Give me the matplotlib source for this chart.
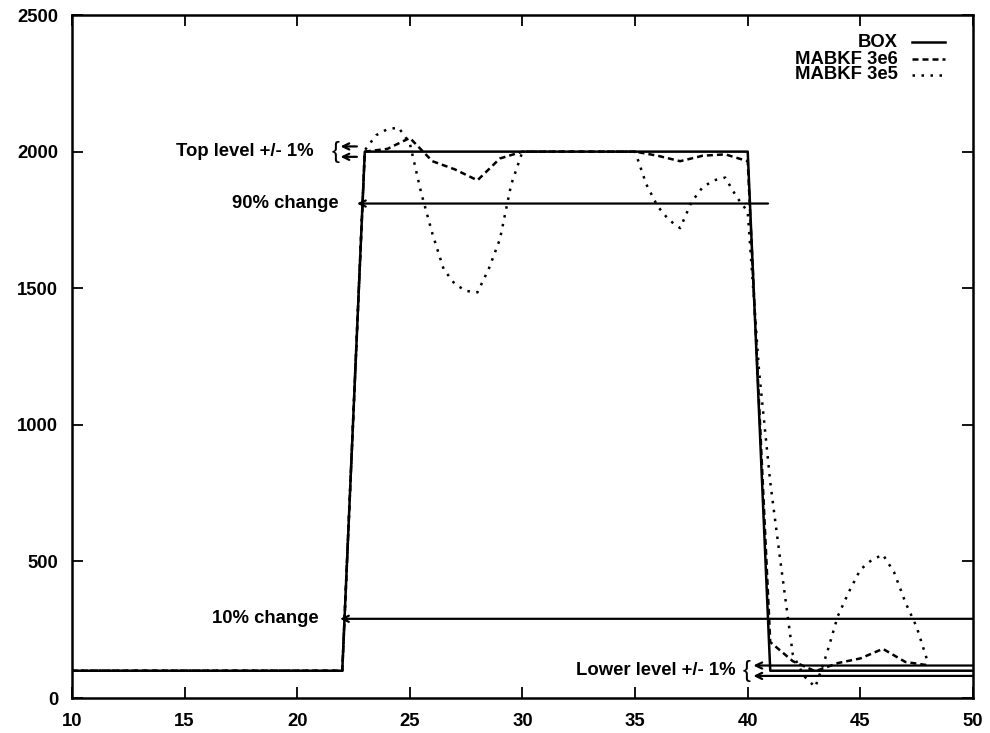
import matplotlib
matplotlib.use("Agg")
import matplotlib.pyplot as plt
from matplotlib.lines import Line2D

plt.rcParams['font.family'] = ['Liberation Sans', 'DejaVu Sans']
plt.rcParams['font.weight'] = 'bold'

# ---- data ----
box_x = [10, 22, 23, 40, 41, 50]
box_y = [100, 100, 2000, 2000, 100, 100]

m6_x = [10, 22, 23, 24, 25, 26, 27, 28, 29, 30, 35, 36, 37, 38, 39, 40,
        41, 42, 43, 44, 45, 46, 47, 48]
m6_y = [100, 100, 2000, 2010, 2050, 1965, 1935, 1895, 1975, 2000, 2000, 1985,
        1965, 1985, 1990, 1965, 205, 135, 98, 128, 145, 180, 132, 120]

m5_x = [10, 22, 23, 23.5, 24, 24.5, 25, 25.5, 26, 26.5, 27, 27.5, 28, 28.5,
        29, 29.5, 30, 35, 35.5, 36, 36.5, 37, 37.5, 38, 38.5, 39, 39.5, 40,
        40.5, 41, 41.5, 42, 42.5, 43, 43.5, 44, 44.5, 45, 45.5, 46, 46.5, 47,
        47.5, 48]
m5_y = [100, 100, 2005, 2060, 2082, 2088, 2030, 1850, 1700, 1570, 1515, 1490,
        1485, 1570, 1680, 1880, 2000, 2000, 1880, 1800, 1750, 1720, 1815,
        1870, 1895, 1905, 1835, 1780, 1200, 790, 470, 160, 80, 40, 160, 300,
        390, 470, 505, 525, 460, 350, 260, 130]

series_labels = ['BOX', 'MABKF 3e6', 'MABKF 3e5']

x_ticks = [10, 15, 20, 25, 30, 35, 40, 45, 50]
y_ticks = [0, 500, 1000, 1500, 2000, 2500]

top_level = 2000
low_level = 100
span = top_level - low_level
pct90 = low_level + 0.9 * span
pct10 = low_level + 0.1 * span
top_hi, top_lo = top_level + 0.01 * span, top_level - 0.01 * span
low_hi, low_lo = low_level + 0.01 * span, low_level - 0.01 * span

# ---- figure ----
fig = plt.figure(figsize=(9.9, 7.33), dpi=100)
ax = fig.add_axes([0.0727, 0.0477, 0.9101, 0.9318])

styles = ['-', (0, (2.4, 1.6)), (0, (1, 2.6))]
lw = 1.8
ax.plot(box_x, box_y, color='black', lw=lw, linestyle=styles[0])
ax.plot(m6_x, m6_y, color='black', lw=lw, linestyle=styles[1])
ax.plot(m5_x, m5_y, color='black', lw=lw, linestyle=styles[2])

arrow_kw = dict(arrowstyle='->, head_length=0.45, head_width=0.22',
                color='black', lw=1.6, shrinkA=0, shrinkB=0)

def hline_arrow(x0, x1, y):
    ax.annotate('', xy=(x0, y), xytext=(x1, y), arrowprops=arrow_kw)

# threshold lines with arrows
hline_arrow(21.92, 22.65, top_hi)
hline_arrow(21.92, 22.65, top_lo)
hline_arrow(22.65, 40.9, pct90)
hline_arrow(21.9, 50, pct10)
hline_arrow(40.25, 50, low_hi)
hline_arrow(40.25, 50, low_lo)

fs = 13.3
ax.text(20.75, top_level, 'Top level +/- 1%', ha='right', va='center', fontsize=fs)
ax.text(21.72, top_level, '{', ha='center', va='center', fontsize=17,
        fontweight='normal')
ax.text(21.85, pct90, '90% change', ha='right', va='center', fontsize=fs)
ax.text(20.95, pct10, '10% change', ha='right', va='center', fontsize=fs)
ax.text(39.45, low_level, 'Lower level +/- 1%', ha='right', va='center', fontsize=fs)
ax.text(39.95, low_level, '{', ha='center', va='center', fontsize=17,
        fontweight='normal')

ax.set_xlim(10, 50)
ax.set_ylim(0, 2500)
ax.set_xticks(x_ticks)
ax.set_yticks(y_ticks)
ax.tick_params(direction='in', length=8, width=1.3, top=True, right=True,
               labelsize=fs)
ax.tick_params(axis='x', pad=11)
ax.tick_params(axis='y', pad=10)
for s in ax.spines.values():
    s.set_linewidth(1.8)

# legend in gnuplot style (label text right-aligned, sample to its right)
leg_rows = [0.9605, 0.9356, 0.9122]
for lab, st, yy in zip(series_labels, styles, leg_rows):
    ax.text(0.9168, yy, lab, transform=ax.transAxes, ha='right', va='center',
            fontsize=fs)
    ax.add_line(Line2D([0.9323, 0.9689], [yy, yy], transform=ax.transAxes,
                       color='black', lw=lw, linestyle=st))

fig.savefig('out.png', dpi=100)
